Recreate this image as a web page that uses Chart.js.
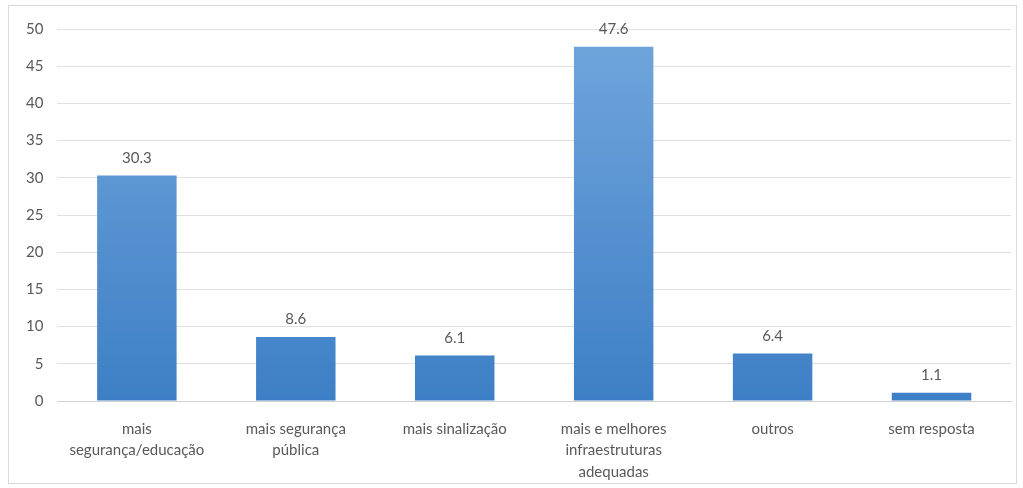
<!DOCTYPE html>
<html>
<head>
<meta charset="utf-8">
<script src="https://cdn.jsdelivr.net/npm/chart.js@4.4.0/dist/chart.umd.min.js"></script>
<style>
  body { margin: 0; background: #fff; }
  #wrap { position: relative; width: 1023px; height: 488px; }
  #frame { position: absolute; left: 8px; top: 5px; width: 1009px; height: 479px; border: 1px solid #d9d9d9; box-sizing: border-box; }
  canvas { position: absolute; left: 0; top: 0; }
</style>
</head>
<body>
<div id="wrap">
  <div id="frame"></div>
  <canvas id="myChart" width="1023" height="488"></canvas>
</div>
<script>
const categories = [
    ['mais', 'segurança/educação'],
    ['mais segurança', 'pública'],
    'mais sinalização',
    ['mais e melhores', 'infraestruturas', 'adequadas'],
    'outros',
    'sem resposta'
];
const values = [30.3, 8.6, 6.1, 47.6, 6.4, 1.1];
const valueLabels = ['30.3', '8.6', '6.1', '47.6', '6.4', '1.1'];

// bar gradient, lighter on top
function barFill(context) {
    const chart = context.chart;
    const area = chart.chartArea;
    if (!area) return '#5b9bd5';
    const g = chart.ctx.createLinearGradient(0, area.top, 0, area.bottom);
    g.addColorStop(0, '#72a6dc');
    g.addColorStop(1, '#3d7fc6');
    return g;
}

const valueLabelPlugin = {
    id: 'valueLabels',
    afterDatasetsDraw(chart) {
        const ctx = chart.ctx;
        const meta = chart.getDatasetMeta(0);
        ctx.save();
        ctx.font = '15px Lato';
        ctx.fillStyle = '#595959';
        ctx.textAlign = 'center';
        ctx.textBaseline = 'bottom';
        meta.data.forEach((bar, i) => {
            ctx.fillText(valueLabels[i], bar.x, bar.y - 10);
        });
        ctx.restore();
    }
};

var ctx = document.getElementById('myChart').getContext('2d');
var myChart = new Chart(ctx, {
    type: 'bar',
    data: {
        labels: categories,
        datasets: [{
            data: values,
            backgroundColor: barFill,
            borderWidth: 0,
            categoryPercentage: 1,
            barPercentage: 0.5
        }]
    },
    options: {
        responsive: false,
        animation: false,
        layout: { padding: { left: 12, right: 12, top: 29, bottom: 0 } },
        plugins: {
            legend: { display: false },
            tooltip: { enabled: false }
        },
        scales: {
            y: {
                min: 0,
                max: 50,
                ticks: { stepSize: 5, color: '#595959', font: { family: 'Lato', size: 15 }, padding: 14 },
                grid: { color: '#e0e0e0', drawTicks: false },
                border: { display: false }
            },
            x: {
                afterFit: (scale) => { scale.height = 87; },
                ticks: { color: '#595959', font: { family: 'Lato', size: 15, lineHeight: 1.45 }, padding: 9, maxRotation: 0, autoSkip: false },
                grid: { display: false },
                border: { color: '#d0d0d0' }
            }
        }
    },
    plugins: [valueLabelPlugin]
});
</script>
</body>
</html>
